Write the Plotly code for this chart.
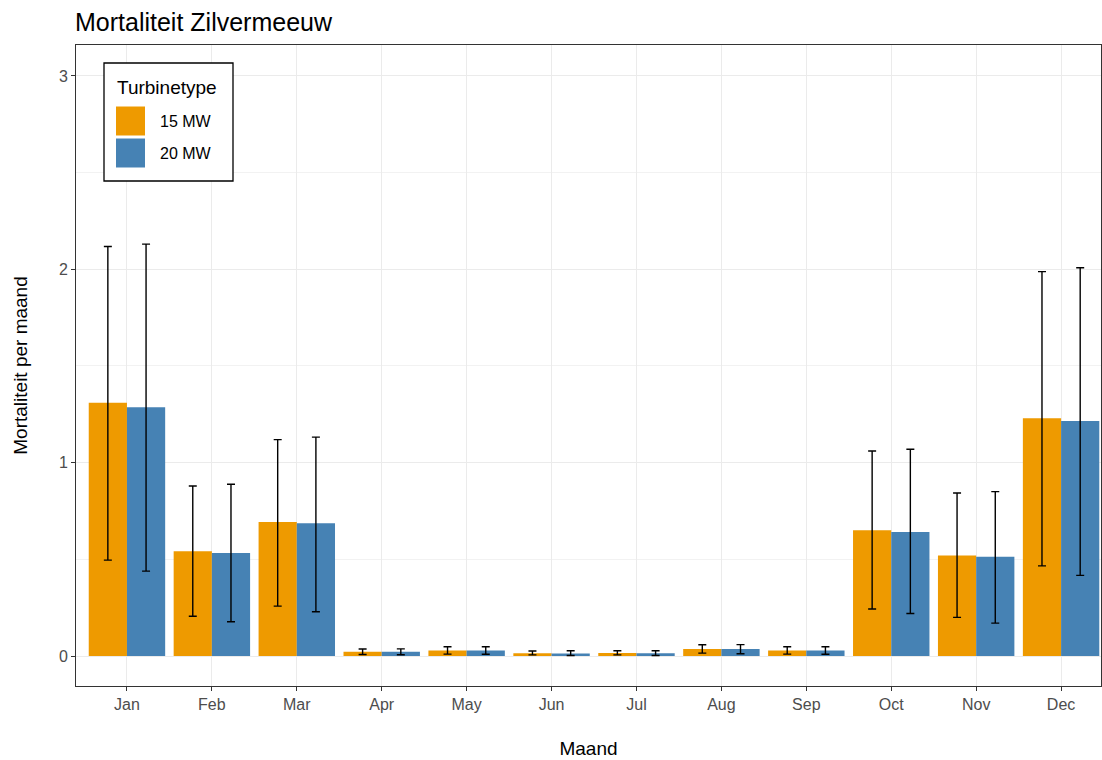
import plotly.graph_objects as go

months = ["Jan", "Feb", "Mar", "Apr", "May", "Jun", "Jul", "Aug", "Sep", "Oct", "Nov", "Dec"]

mw15_mean = [1.31, 0.542, 0.693, 0.022, 0.029, 0.015, 0.016, 0.036, 0.028, 0.651, 0.520, 1.230]
mw15_low = [0.496, 0.206, 0.258, 0.008, 0.010, 0.006, 0.006, 0.015, 0.010, 0.243, 0.200, 0.466]
mw15_high = [2.118, 0.879, 1.119, 0.036, 0.048, 0.026, 0.027, 0.058, 0.048, 1.060, 0.843, 1.988]

mw20_mean = [1.287, 0.533, 0.687, 0.022, 0.029, 0.013, 0.014, 0.036, 0.028, 0.642, 0.513, 1.215]
mw20_low = [0.439, 0.177, 0.229, 0.007, 0.009, 0.003, 0.003, 0.012, 0.009, 0.220, 0.170, 0.417]
mw20_high = [2.130, 0.888, 1.132, 0.037, 0.048, 0.027, 0.027, 0.059, 0.048, 1.069, 0.850, 2.008]

series_names = ["15 MW", "20 MW"]
colors = ["#EE9A00", "#4682B4"]
legend_title = "Turbinetype"

W, H = 1102, 760
ML, MR, MT, MB = 76, 1, 45, 74
PW, PH = W - ML - MR, H - MT - MB


def px(x):
    return (x - ML) / PW


def py(y):
    return (H - MB - y) / PH


fig = go.Figure()
for name, mean, low, high, col in [
    (series_names[0], mw15_mean, mw15_low, mw15_high, colors[0]),
    (series_names[1], mw20_mean, mw20_low, mw20_high, colors[1]),
]:
    fig.add_trace(go.Bar(
        x=months, y=mean, name=name,
        marker=dict(color=col, line=dict(width=0)),
        error_y=dict(
            type="data", symmetric=False,
            array=[h - m for h, m in zip(high, mean)],
            arrayminus=[m - l for m, l in zip(mean, low)],
            color="black", thickness=1.4, width=4,
        ),
    ))

font_family = "Liberation Sans, Arial, sans-serif"

# legend drawn as a boxed key (ggplot style, large square keys)
shapes = [dict(type="rect", xref="paper", yref="paper",
               x0=px(104), x1=px(233), y0=py(181), y1=py(63),
               fillcolor="white", line=dict(color="black", width=1.3), layer="above")]
annotations = [dict(text=legend_title, xref="paper", yref="paper", x=px(115), y=py(88),
                    xanchor="left", yanchor="middle", showarrow=False,
                    font=dict(size=19, color="black", family=font_family))]
key_tops = [106.5, 138.5]
for name, col, top in zip(series_names, colors, key_tops):
    shapes.append(dict(type="rect", xref="paper", yref="paper",
                       x0=px(116), x1=px(145), y0=py(top + 29), y1=py(top),
                       fillcolor=col, line=dict(width=0), layer="above"))
    annotations.append(dict(text=name, xref="paper", yref="paper", x=px(158), y=py(top + 14.5),
                            xanchor="left", yanchor="middle", showarrow=False,
                            font=dict(size=16, color="black", family=font_family)))

fig.update_layout(
    width=W, height=H,
    margin=dict(l=ML, r=MR, t=MT, b=MB),
    paper_bgcolor="white", plot_bgcolor="white",
    barmode="group", bargap=0.1, bargroupgap=0,
    font=dict(family=font_family, color="black"),
    title=dict(text="Mortaliteit Zilvermeeuw", x=75 / W, xanchor="left",
               y=1 - 22 / H, yanchor="middle",
               font=dict(size=25, color="black", family=font_family)),
    showlegend=False,
    shapes=shapes,
    annotations=annotations,
    xaxis=dict(
        type="category", range=[-0.6, 11.47], automargin=False,
        showgrid=True, gridcolor="#EBEBEB", gridwidth=1,
        showline=True, linecolor="#333333", linewidth=1, mirror=True,
        ticks="outside", ticklen=4, tickcolor="#333333",
        tickfont=dict(size=16, color="#4D4D4D"),
        title=dict(text="Maand", font=dict(size=19, color="black"), standoff=29),
        zeroline=False,
    ),
    yaxis=dict(
        range=[-0.155, 3.16], automargin=False,
        tickvals=[0, 1, 2, 3],
        showgrid=True, gridcolor="#EBEBEB", gridwidth=1,
        minor=dict(tickvals=[0.5, 1.5, 2.5], showgrid=True, gridcolor="#F2F2F2", gridwidth=1, ticks=""),
        showline=True, linecolor="#333333", linewidth=1, mirror=True,
        ticks="outside", ticklen=4, tickcolor="#333333",
        tickfont=dict(size=16, color="#4D4D4D"),
        title=dict(text="Mortaliteit per maand", font=dict(size=19, color="black"), standoff=26),
        zeroline=False,
    ),
)

fig.write_html("out.html", config={"displayModeBar": False},
               post_script="document.body.style.margin='0';")
